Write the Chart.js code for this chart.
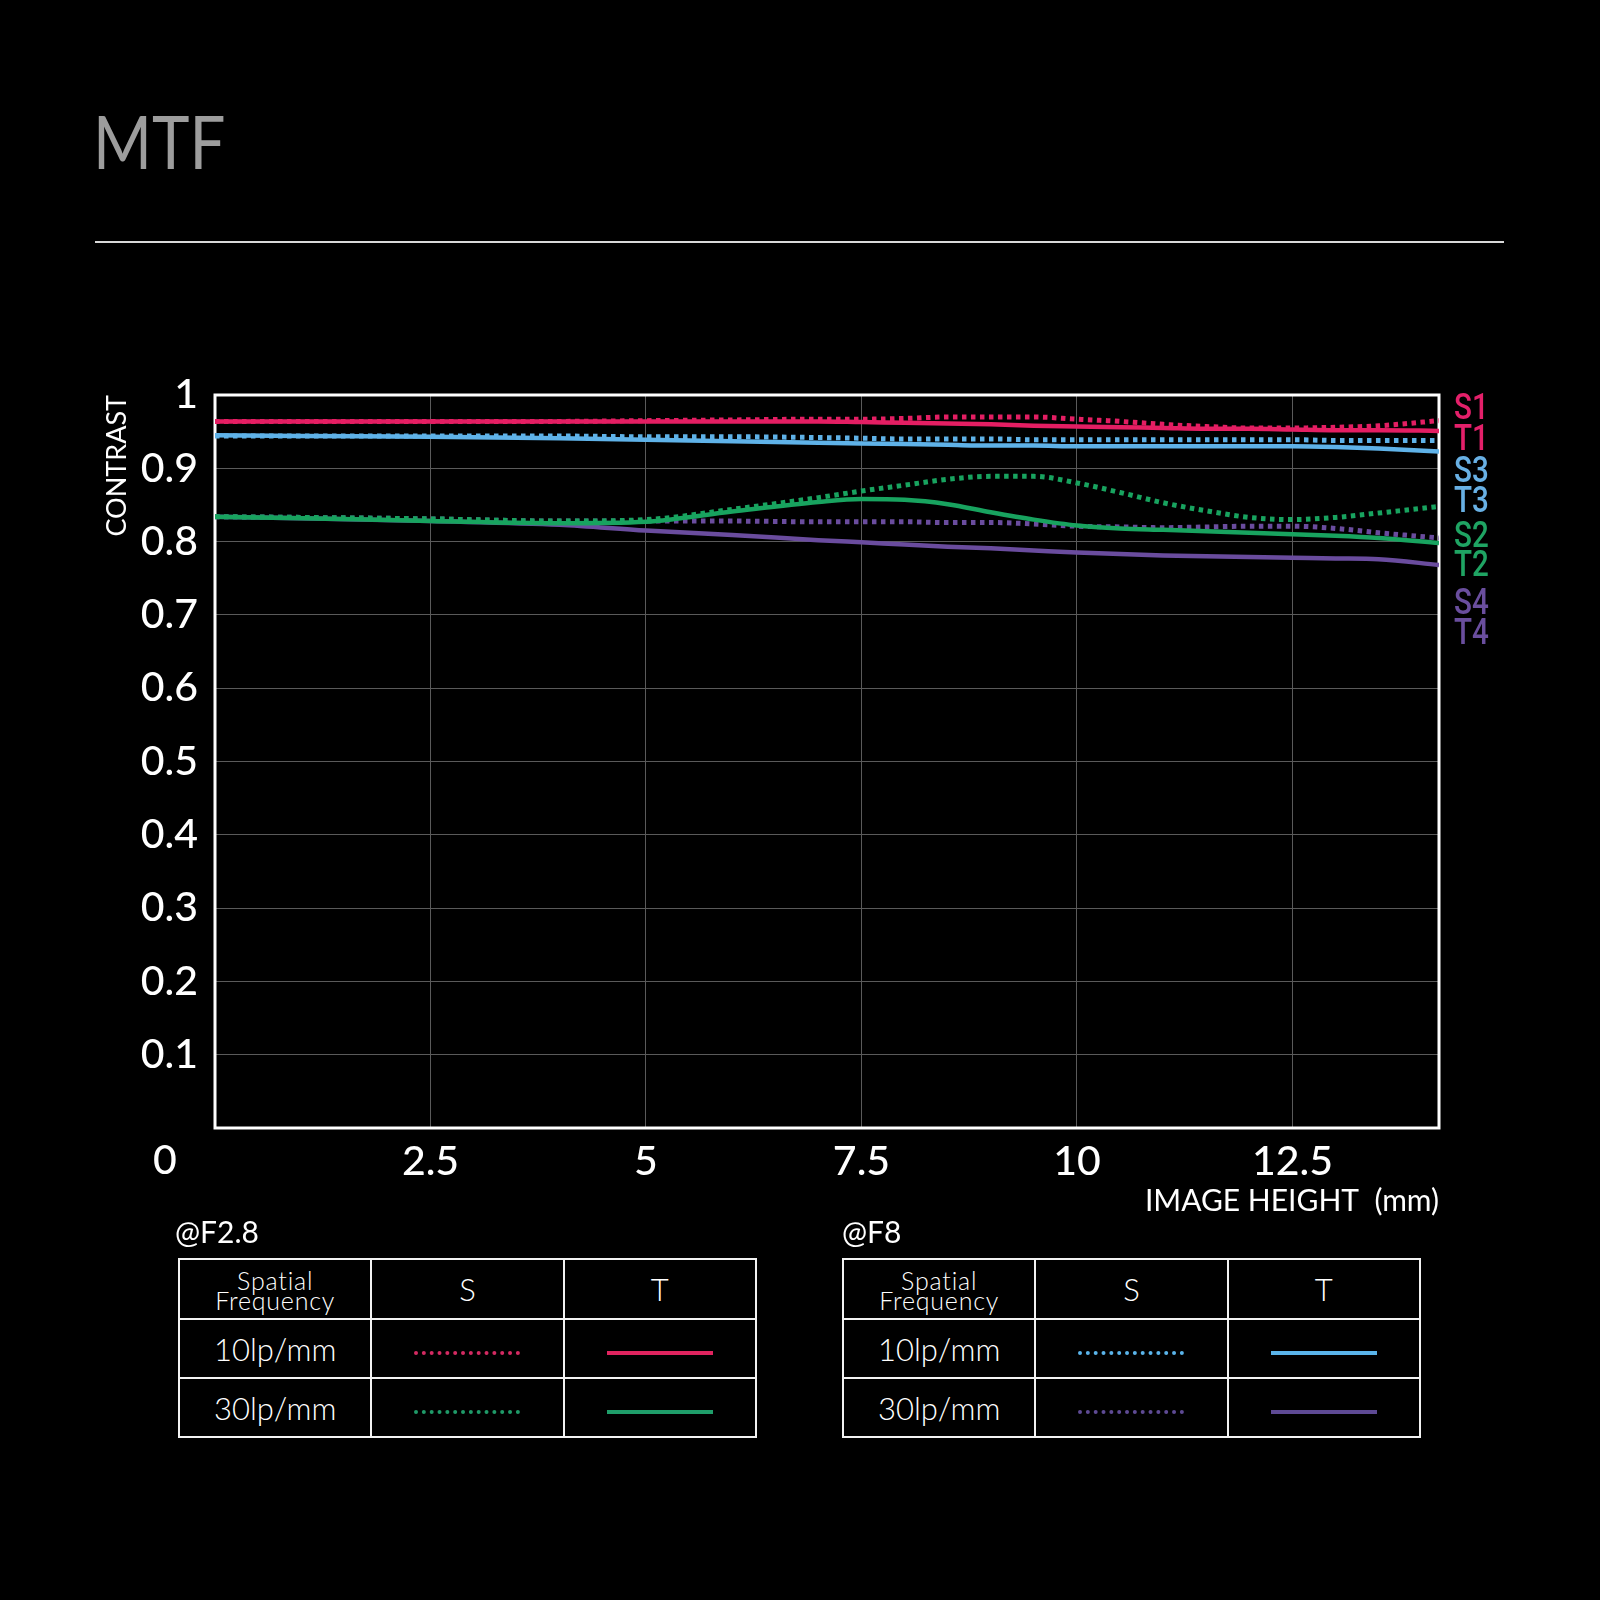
<!DOCTYPE html>
<html>
<head>
<meta charset="utf-8">
<script src="https://cdn.jsdelivr.net/npm/chart.js@4.4.1/dist/chart.umd.min.js"></script>
<style>
  html, body { margin: 0; padding: 0; background: #000; }
  body { width: 1600px; height: 1600px; position: relative; overflow: hidden; font-family: Lato, "Noto Sans", sans-serif; color: #fff; }
  #title { position: absolute; left: 93px; top: 96px; font-size: 73px; line-height: 90px; color: #9d9d9d; transform: scaleX(0.87); transform-origin: left center; }
  #rule { position: absolute; left: 95px; top: 241px; width: 1409px; height: 2px; background: #d8d8d8; }
  #chartBox { position: absolute; left: 0; top: 300px; width: 1600px; height: 919px; }
  .tag { position: absolute; left: 1454px; font-family: Roboto, sans-serif; font-weight: 500; font-size: 37px; line-height: 30px; transform: scaleX(0.8); transform-origin: left center; }
  .fstop { position: absolute; top: 1213px; font-size: 30px; line-height: 36px; }
  table.key { position: absolute; top: 1258px; width: 579px; border-collapse: collapse; table-layout: fixed; }
  table.key td { border: 2px solid #f2f2f2; text-align: center; vertical-align: middle; padding: 0; font-size: 31px; font-weight: 300; }
  table.key tr.head td { height: 56px; font-size: 31px; }
  table.key tr.row td { height: 57px; }
  table.key tr.head td.sf { font-size: 25px; line-height: 20px; letter-spacing: 0.8px; padding-top: 2px; }
  .sample { display: inline-block; width: 106px; vertical-align: middle; }
</style>
</head>
<body>
<div id="title">MTF</div>
<div id="rule"></div>
<div id="chartBox"><canvas id="mtf" width="1600" height="919"></canvas></div>

<div class="tag" style="top:392px;color:#e4206a">S1</div>
<div class="tag" style="top:423px;color:#e4206a">T1</div>
<div class="tag" style="top:455px;color:#68b0e4">S3</div>
<div class="tag" style="top:485px;color:#68b0e4">T3</div>
<div class="tag" style="top:520px;color:#1fa463">S2</div>
<div class="tag" style="top:549px;color:#1fa463">T2</div>
<div class="tag" style="top:587px;color:#6a4e9e">S4</div>
<div class="tag" style="top:617px;color:#6a4e9e">T4</div>

<div class="fstop" style="left:175px">@F2.8</div>
<table class="key" style="left:178px">
  <tr class="head"><td class="sf">Spatial<br>Frequency</td><td>S</td><td>T</td></tr>
  <tr class="row"><td>10lp/mm</td><td><span class="sample" style="border-top:4px dotted #d42a62"></span></td><td><span class="sample" style="border-top:4px solid #e0245f"></span></td></tr>
  <tr class="row"><td>30lp/mm</td><td><span class="sample" style="border-top:4px dotted #1f9a68"></span></td><td><span class="sample" style="border-top:4px solid #1f9e6a"></span></td></tr>
</table>

<div class="fstop" style="left:842px">@F8</div>
<table class="key" style="left:842px">
  <tr class="head"><td class="sf">Spatial<br>Frequency</td><td>S</td><td>T</td></tr>
  <tr class="row"><td>10lp/mm</td><td><span class="sample" style="border-top:4px dotted #5ab4ea"></span></td><td><span class="sample" style="border-top:4px solid #5ab4ea"></span></td></tr>
  <tr class="row"><td>30lp/mm</td><td><span class="sample" style="border-top:4px dotted #5e4a94"></span></td><td><span class="sample" style="border-top:4px solid #5e4a94"></span></td></tr>
</table>

<script>
// image height (mm) where the curves were read
const imageHeight = [0, 1, 2.5, 4, 5, 6, 7, 7.5, 8, 8.5, 9, 9.5, 10, 10.5, 11, 11.5, 12, 12.5, 13, 13.5, 14.2];

// @F2.8
const s1 = [0.964, 0.964, 0.964, 0.964, 0.965, 0.966, 0.967, 0.967, 0.968, 0.970, 0.970, 0.970, 0.967, 0.964, 0.960, 0.957, 0.955, 0.955, 0.956, 0.958, 0.965];
const t1 = [0.964, 0.964, 0.964, 0.964, 0.964, 0.964, 0.964, 0.963, 0.962, 0.961, 0.960, 0.958, 0.957, 0.956, 0.955, 0.954, 0.954, 0.953, 0.952, 0.952, 0.951];
const s2 = [0.834, 0.833, 0.831, 0.828, 0.830, 0.844, 0.860, 0.869, 0.877, 0.885, 0.889, 0.889, 0.880, 0.867, 0.853, 0.842, 0.833, 0.830, 0.833, 0.839, 0.848];
const t2 = [0.834, 0.832, 0.828, 0.825, 0.827, 0.841, 0.854, 0.858, 0.857, 0.851, 0.840, 0.830, 0.822, 0.818, 0.816, 0.814, 0.812, 0.810, 0.808, 0.805, 0.798];

// @F8
const s3 = [0.944, 0.944, 0.944, 0.944, 0.943, 0.943, 0.942, 0.941, 0.940, 0.940, 0.940, 0.939, 0.939, 0.939, 0.939, 0.939, 0.939, 0.939, 0.938, 0.938, 0.938];
const t3 = [0.945, 0.944, 0.943, 0.941, 0.939, 0.937, 0.935, 0.934, 0.933, 0.932, 0.931, 0.931, 0.930, 0.930, 0.930, 0.930, 0.930, 0.930, 0.929, 0.927, 0.923];
const s4 = [0.834, 0.833, 0.831, 0.828, 0.828, 0.828, 0.827, 0.827, 0.827, 0.826, 0.826, 0.824, 0.821, 0.820, 0.819, 0.820, 0.821, 0.821, 0.818, 0.812, 0.805];
const t4 = [0.834, 0.832, 0.828, 0.823, 0.815, 0.809, 0.802, 0.799, 0.796, 0.793, 0.791, 0.788, 0.785, 0.783, 0.781, 0.780, 0.779, 0.778, 0.777, 0.776, 0.768];

const xTickLabels = ["0", "2.5", "5", "7.5", "10", "12.5"];
const yTickLabels = ["", "0.1", "0.2", "0.3", "0.4", "0.5", "0.6", "0.7", "0.8", "0.9", "1"];

const PINK = "#e41e63", BLUE = "#5fb2e8", GREEN = "#18a35f", PURPLE = "#6a4c9e";

function pts(ys) {
  return imageHeight.map((x, i) => ({ x: x, y: ys[i] }));
}

function curve(label, ys, color, dotted) {
  return {
    label: label,
    data: pts(ys),
    borderColor: color,
    borderWidth: dotted ? 5 : 4.5,
    borderDash: dotted ? [4.5, 4.5] : [],
    borderCapStyle: "butt",
    pointRadius: 0,
    fill: false,
    cubicInterpolationMode: "monotone"
  };
}

// white frame round the plot + the "0" in the corner
const framePlugin = {
  id: "frame",
  beforeDatasetsDraw(chart) {
    const { ctx, chartArea: a } = chart;
    ctx.save();
    ctx.strokeStyle = "#ffffff";
    ctx.lineWidth = 3;
    ctx.strokeRect(a.left, a.top, a.right - a.left, a.bottom - a.top);
    ctx.restore();
  },
  afterDraw(chart) {
    const { ctx, chartArea: a } = chart;
    ctx.save();
    ctx.fillStyle = "#ffffff";
    ctx.font = "500 41px Lato, sans-serif";
    ctx.textAlign = "center";
    ctx.textBaseline = "middle";
    ctx.fillText(xTickLabels[0], a.left - 50, a.bottom + 33);
    ctx.restore();
  }
};

const ctx = document.getElementById("mtf").getContext("2d");
new Chart(ctx, {
  type: "line",
  data: {
    datasets: [
      curve("T1", t1, PINK, false),
      curve("S1", s1, PINK, true),
      curve("T3", t3, BLUE, false),
      curve("S3", s3, BLUE, true),
      curve("T2", t2, GREEN, false),
      curve("S2", s2, GREEN, true),
      curve("T4", t4, PURPLE, false),
      curve("S4", s4, PURPLE, true)
    ]
  },
  options: {
    responsive: false,
    animation: false,
    devicePixelRatio: 1,
    layout: { padding: { left: 0, right: 161, top: 95, bottom: 0 } },
    plugins: { legend: { display: false }, tooltip: { enabled: false } },
    scales: {
      x: {
        type: "linear",
        min: 0,
        max: 14.2,
        afterFit(scale) { scale.height = 91; },
        border: { display: false },
        grid: { color: "#5a5a5a", lineWidth: 1, drawTicks: false },
        ticks: {
          stepSize: 2.5,
          includeBounds: false,
          autoSkip: false,
          maxRotation: 0,
          padding: 9,
          color: "#ffffff",
          font: { family: "Lato, sans-serif", size: 41, weight: "500" },
          callback: (v, i) => (i === 0 ? "" : xTickLabels[i])
        },
        title: {
          display: true,
          text: "IMAGE HEIGHT  (mm)",
          align: "end",
          color: "#ffffff",
          padding: { top: 0, bottom: 0 },
          font: { family: "Lato, sans-serif", size: 30 }
        }
      },
      y: {
        min: 0,
        max: 1,
        afterFit(scale) { scale.width = 215; },
        border: { display: false },
        grid: { color: "#5a5a5a", lineWidth: 1, drawTicks: false },
        ticks: {
          stepSize: 0.1,
          autoSkip: false,
          padding: 17,
          color: "#ffffff",
          font: { family: "Lato, sans-serif", size: 41, weight: "500" },
          callback: (v, i) => yTickLabels[i]
        },
        title: {
          display: true,
          text: "CONTRAST",
          align: "end",
          color: "#ffffff",
          padding: { top: 101, bottom: 0 },
          font: { family: "Lato, sans-serif", size: 27 }
        }
      }
    }
  },
  plugins: [framePlugin]
});
</script>
</body>
</html>
